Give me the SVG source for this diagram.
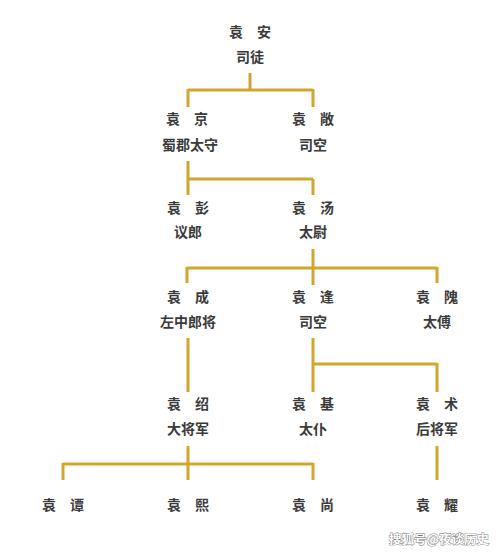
<svg xmlns="http://www.w3.org/2000/svg" width="500" height="552" viewBox="0 0 500 552">
<style>
.t{font-family:"Noto Sans CJK SC","Noto Sans CJK TC",sans-serif;font-size:14px;font-weight:bold;fill:#3a3a3a;text-anchor:middle}
.c{fill:none;stroke:#D4A52C;stroke-width:3;stroke-linecap:butt}
.w{font-family:"Noto Sans CJK SC",sans-serif;font-size:12.5px;font-weight:bold;fill:#fff;stroke:#777;stroke-width:0.9;paint-order:stroke;text-anchor:end}
</style>
<rect width="500" height="552" fill="#fff"/>
<g id="connectors" class="c">
<path d="M250 73V90M188 90H313M188 89V107M313 89V107"/>
<path d="M188 161V180M188 179H313M188 179V195M313 179V195"/>
<path d="M313 249V285M187 268H437M187 267V283M437 267V283"/>
<path d="M188 338V392M313 338V392M313 364H437M437 363V392"/>
<path d="M188 446V480M63 464H313M63 463V480M313 463V480M437 446V480"/>
</g>
<g id="n-yuanan"><text class="t" x="250" y="37">袁　安</text><text class="t" x="250" y="62">司徒</text></g>
<g id="n-yuanjing"><text class="t" x="187" y="124">袁　京</text><text class="t" x="190" y="150">蜀郡太守</text></g>
<g id="n-yuanchang"><text class="t" x="313" y="124">袁　敞</text><text class="t" x="313" y="150">司空</text></g>
<g id="n-yuanpeng"><text class="t" x="188" y="213">袁　彭</text><text class="t" x="188" y="237">议郎</text></g>
<g id="n-yuantang"><text class="t" x="313" y="213">袁　汤</text><text class="t" x="313" y="237">太尉</text></g>
<g id="n-yuancheng"><text class="t" x="188" y="302">袁　成</text><text class="t" x="188" y="327">左中郎将</text></g>
<g id="n-yuanfeng"><text class="t" x="313" y="302">袁　逢</text><text class="t" x="313" y="327">司空</text></g>
<g id="n-yuanwei"><text class="t" x="437" y="302">袁　隗</text><text class="t" x="437" y="327">太傅</text></g>
<g id="n-yuanshao"><text class="t" x="188" y="409">袁　绍</text><text class="t" x="188" y="434">大将军</text></g>
<g id="n-yuanji"><text class="t" x="313" y="409">袁　基</text><text class="t" x="313" y="434">太仆</text></g>
<g id="n-yuanshu"><text class="t" x="437" y="409">袁　术</text><text class="t" x="437" y="434">后将军</text></g>
<g id="n-yuantan"><text class="t" x="63" y="510">袁　谭</text></g>
<g id="n-yuanxi"><text class="t" x="188" y="510">袁　熙</text></g>
<g id="n-yuanshang"><text class="t" x="313" y="510">袁　尚</text></g>
<g id="n-yuanyao"><text class="t" x="437" y="510">袁　耀</text></g>
<text class="w" x="489" y="544">搜狐号@夜谈历史</text>
</svg>
